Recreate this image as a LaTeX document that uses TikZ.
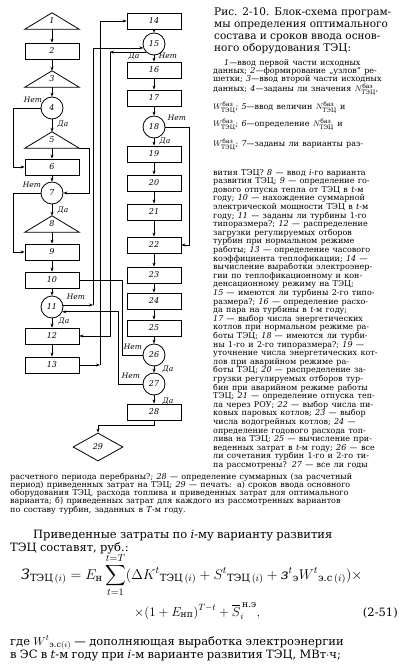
\RequirePackage{fix-cm}
\documentclass[tikz,border=0pt]{standalone}
\usepackage{amsmath}
\usepackage{fontspec}
\setmainfont{DejaVu Serif}
\usetikzlibrary{shapes.geometric,arrows.meta}
\newcommand\jline[1]{\makebox[\linewidth][s]{#1}\par}
\newcommand\lline[1]{\makebox[\linewidth][l]{#1}\par}
\newcommand\nm[1]{\textit{#1}}
\newcommand\Nbaz{$N^{\text{баз}}_{\text{ТЭЦ}}$}
\newcommand\Wbaz{$W^{\text{баз}}_{\text{ТЭЦ}}$}
\newcommand\setfs[2]{\fontsize{#1}{#2}\selectfont\lineskiplimit=-50pt\relax\parindent=0pt\relax}
\begin{document}
\begin{tikzpicture}[x=1pt,y=-1pt,
  every node/.style={inner sep=0pt},
  fb/.style={draw, line width=0.8pt, minimum width=54pt, minimum height=16pt, font=\fontsize{8}{8}\selectfont\itshape},
  fc/.style={draw, circle, line width=0.8pt, minimum size=22pt, font=\fontsize{8}{8}\selectfont\itshape},
  ft/.style={minimum width=54pt, minimum height=16pt, font=\fontsize{8}{8}\selectfont\itshape,
    append after command={\pgfextra{\draw[line width=0.8pt] (\tikzlastnode.south west) -- (\tikzlastnode.north) -- (\tikzlastnode.south east) -- cycle;}}},
  fd/.style={draw, diamond, aspect=1.8, line width=0.8pt, minimum width=50pt, minimum height=28pt, font=\fontsize{8}{8}\selectfont\itshape},
  ln/.style={line width=0.7pt},
  ar/.style={ln, -{Stealth[length=4pt,width=3pt]}},
  yn/.style={font=\fontsize{7.5}{7.5}\selectfont\itshape},
  tx/.style={anchor=base west, inner sep=0pt, text width=#1}
]
\fill[white] (0,0) rectangle (401,669);
\useasboundingbox (0,0) rectangle (401,669);

% ---------- column 1
\node[ft] (n1) at (52,21) {1};
\node[fb] (n2) at (52,51) {2};
\node[ft] (n3) at (52,79) {3};
\node[fc] (n4) at (52,108) {4};
\node[ft] (n5) at (52,140) {5};
\node[fb] (n6) at (52,167) {6};
\node[fc] (n7) at (52,193) {7};
\node[ft] (n8) at (52,224) {8};
\node[fb] (n9) at (52,252) {9};
\node[fb] (n10) at (52,280) {10};
\node[fc] (n11) at (52,307) {11};
\node[fb] (n12) at (52,336) {12};
\node[fb] (n13) at (52,365) {13};
% ---------- column 2
\node[fb] (n14) at (154,21) {14};
\node[fc] (n15) at (154,44) {15};
\node[fb] (n16) at (154,70) {16};
\node[fb] (n17) at (154,98) {17};
\node[fc] (n18) at (154,127) {18};
\node[fb] (n19) at (154,154) {19};
\node[fb] (n20) at (154,183) {20};
\node[fb] (n21) at (154,212) {21};
\node[fb] (n22) at (154,245) {22};
\node[fb] (n23) at (154,275) {23};
\node[fb] (n24) at (154,301) {24};
\node[fb] (n25) at (154,328) {25};
\node[fc] (n26) at (154,355) {26};
\node[fc] (n27) at (154,384) {27};
\node[fb] (n28) at (154,412) {28};
\node[fd] (n29) at (98,447) {29};

% ---------- labels
\node[yn] (l4n) at (33,100) {Нет};
\node[yn] (l4d) at (63,124) {Да};
\node[yn] (l7n) at (32,185) {Нет};
\node[yn] (l7d) at (63,210) {Да};
\node[yn] (l11n) at (76,297) {Нет};
\node[yn] (l11d) at (64,321) {Да};
\node[yn] (l15d) at (134,56) {Да};
\node[yn] (l15n) at (168,56) {Нет};
\node[yn] (l18n) at (177,118) {Нет};
\node[yn] (l18d) at (165,141) {Да};
\node[yn] (l26n) at (133,347) {Нет};
\node[yn] (l26d) at (168,369) {Да};
\node[yn] (l27n) at (131,376) {Нет};
\node[yn] (l27d) at (168,401) {Да};

% ---------- routing columns
\coordinate (xL) at (13,0);
\coordinate (xR5) at (89,0);
\coordinate (xA) at (93,0);
\coordinate (xB) at (100,0);
\coordinate (xC) at (110,0);
\coordinate (xD) at (118,0);
\coordinate (xE) at (122,0);
\coordinate (xR18) at (189,0);
\coordinate (j28) at (154,425);

% ---------- straight connectors
\draw[ar] (n1.south) -- (n2.north);
\draw[ar] (n2.south) -- (n3.north);
\draw[ar] (n3.south) -- (n4.north);
\draw[ar] (n4.south) -- (n5.north);
\draw[ar] (n5.south) -- (n6.north);
\draw[ar] (n6.south) -- (n7.north);
\draw[ar] (n7.south) -- (n8.north);
\draw[ar] (n8.south) -- (n9.north);
\draw[ar] (n9.south) -- (n10.north);
\draw[ar] (n10.south) -- (n11.north);
\draw[ar] (n11.south) -- (n12.north);
\draw[ar] (n12.south) -- (n13.north);
\draw[ar] (n14.south) -- (n15.north);
\draw[ar] (n15.south) -- (n16.north);
\draw[ar] (n16.south) -- (n17.north);
\draw[ar] (n17.south) -- (n18.north);
\draw[ar] (n18.south) -- (n19.north);
\draw[ar] (n19.south) -- (n20.north);
\draw[ar] (n20.south) -- (n21.north);
\draw[ar] (n21.south) -- (n22.north);
\draw[ar] (n22.south) -- (n23.north);
\draw[ar] (n23.south) -- (n24.north);
\draw[ar] (n24.south) -- (n25.north);
\draw[ar] (n25.south) -- (n26.north);
\draw[ar] (n26.south) -- (n27.north);
\draw[ar] (n27.south) -- (n28.north);
% ---------- routed connectors
\draw[ar] (n4.west) -- (n4.west -| xL) |- (n6.west);
\draw[ar] (n5.south east) -- (n5.south east -| xR5) |- (n7.east);
\draw[ar] (n7.west) -- (n7.west -| xL) |- (n9.west);
\draw[ar] (n13.east) -- (n13.east -| xB);
\draw[ar] (n13.east -| xB) |- (n14.west);
\draw[ar] (n11.10) -- (n11.10 -| xA);
\draw[ar] (n11.10 -| xA) |- (n15.200);
\draw[ar] (n15.225) -- (n15.225 -| xC);
\draw[ar] (n15.225 -| xC) |- (n12.east);
\draw[ar] (n18.east) -- (n18.east -| xR18) |- (n22.east);
\draw[ln] (n26.west) -- (n26.west -| xE) |- (n10.east);
\draw[ar] (n27.west) -- (n27.west -| xD) |- (n11.-25);
\draw[ar] (n28.south) -- (j28) -| (n29.north);

% ---------- caption
\node[tx=182pt] (cap) at (214,16) {\setfs{10.5}{12}%
\jline{Рис. 2-10. Блок-схема програм-}
\jline{мы определения оптимального}
\jline{состава и сроков ввода основ-}
\lline{ного оборудования ТЭЦ:}};

% ---------- legend
\node[tx=184pt] (lgA) at (213,66) {\setfs{8}{8}%
\hspace*{11pt}\makebox[\dimexpr\linewidth-11pt\relax][s]{\nm{1}—ввод первой части исходных}\par
\jline{данных; \nm{2}—формирование „узлов“ ре-}
\jline{шетки; \nm{3}—ввод второй части исходных}};
\node[tx=184pt] (lg4) at (213,91) {\setfs{8}{8}\jline{данных; \nm{4}—заданы ли значения \Nbaz,}};
\node[tx=184pt] (lg5) at (213,109) {\setfs{8}{8}\jline{\Wbaz; \nm{5}—ввод величин \Nbaz{} и}};
\node[tx=184pt] (lg6) at (213,126) {\setfs{8}{8}\jline{\Wbaz; \nm{6}—определение \Nbaz{} и}};
\node[tx=184pt] (lg7) at (213,146) {\setfs{8}{8}\jline{\Wbaz; \nm{7}—заданы ли варианты раз-}};

\node[tx=184pt] (lgB) at (213,175) {\setfs{8}{8.6}%
\jline{вития ТЭЦ? \nm{8} — ввод \textit{i}-го варианта}
\jline{развития ТЭЦ; \nm{9} — определение го-}
\jline{дового отпуска тепла от ТЭЦ в \textit{t}-м}
\jline{году; \nm{10} — нахождение суммарной}
\jline{электрической мощности ТЭЦ в \textit{t}-м}
\jline{году; \nm{11} — заданы ли турбины 1-го}
\jline{типоразмера?; \nm{12} — распределение}
\jline{загрузки регулируемых отборов}
\jline{турбин при нормальном режиме}
\jline{работы; \nm{13} — определение часового}
\jline{коэффициента теплофикации; \nm{14} —}
\jline{вычисление выработки электроэнер-}
\jline{гии по теплофикационному и кон-}
\jline{денсационному режиму на ТЭЦ;}
\jline{\nm{15} — имеются ли турбины 2-го типо-}
\jline{размера?; \nm{16} — определение расхо-}
\jline{да пара на турбины в \textit{t}-м году;}
\jline{\nm{17} — выбор числа энергетических}
\jline{котлов при нормальном режиме ра-}
\jline{боты ТЭЦ; \nm{18} — имеются ли турби-}
\jline{ны 1-го и 2-го типоразмера?; \nm{19} —}
\jline{уточнение числа энергетических кот-}
\jline{лов при аварийном режиме ра-}
\jline{боты ТЭЦ; \nm{20} — распределение за-}
\jline{грузки регулируемых отборов тур-}
\jline{бин при аварийном режиме работы}
\jline{ТЭЦ; \nm{21} — определение отпуска теп-}
\jline{ла через РОУ; \nm{22} — выбор числа пи-}
\jline{ковых паровых котлов; \nm{23} — выбор}
\jline{числа водогрейных котлов; \nm{24} —}
\jline{определение годового расхода топ-}
\jline{лива на ТЭЦ; \nm{25} — вычисление при-}
\jline{веденных затрат в \textit{t}-м году; \nm{26} — все}
\jline{ли сочетания турбин 1-го и 2-го ти-}
\jline{па рассмотрены? \nm{27} — все ли годы}};

\node[tx=387pt] (lgC) at (10,479) {\setfs{8}{8.3}%
\jline{расчетного периода перебраны?; \nm{28} — определение суммарных (за расчетный}
\jline{период) приведенных затрат на ТЭЦ; \nm{29} — печать: а) сроков ввода основного}
\jline{оборудования ТЭЦ, расхода топлива и приведенных затрат для оптимального}
\jline{варианта; б) приведенных затрат для каждого из рассмотренных вариантов}
\lline{по составу турбин, заданных в \textit{T}-м году.}};

% ---------- body text
\node[tx=388pt] (body) at (10,538) {\setfs{11.5}{13}%
\hspace*{23pt}\makebox[\dimexpr\linewidth-23pt\relax][s]{Приведенные затраты по \textit{i}-му варианту развития}\par
\lline{ТЭЦ составят, руб.:}};

\node[anchor=base west] (f1) at (21,579) {\fontsize{14.2}{15}\selectfont
$\displaystyle \text{\itshape З}_{\text{ТЭЦ}\,(i)} = E_{\text{н}} \sum_{t=1}^{t=T} (\Delta K^t{}_{\text{ТЭЦ}\,(i)} + S^t{}_{\text{ТЭЦ}\,(i)} + \text{\itshape з}^t{}_{\text{э}} W^t{}_{\text{э.с}\,(i)}) \times$};
\node[anchor=base west] (f2) at (134,616) {\fontsize{13}{14}\selectfont
$\displaystyle \times (1+E_{\text{нп}})^{T-t} + \overline{S}^{\,\text{н.э}}_{i},$};
\node[anchor=base east] (eqn) at (398,616) {\fontsize{11.5}{13}\selectfont (2-51)};

\node[tx=388pt] (tail) at (10,645) {\setfs{11.5}{13}%
\jline{где $W^t{}_{\text{э.с}(i)}$ — дополняющая выработка электроэнергии}
\jline{в ЭС в \textit{t}-м году при \textit{i}-м варианте развития ТЭЦ, МВт$\cdot$ч;}};
\end{tikzpicture}
\end{document}
